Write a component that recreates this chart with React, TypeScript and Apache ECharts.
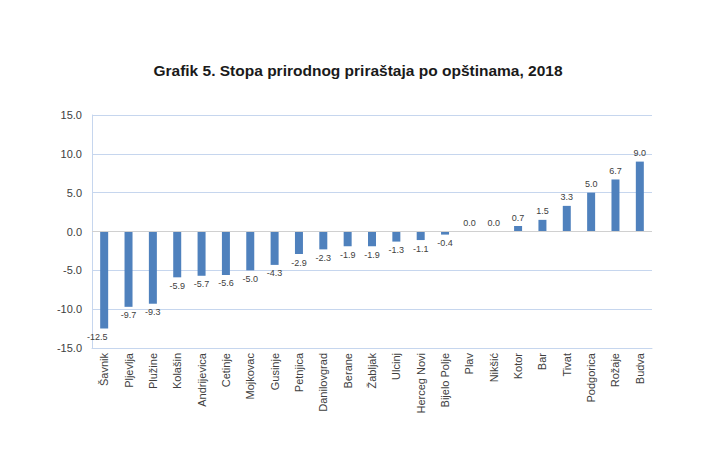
import React, { useEffect, useRef } from "react";
import * as echarts from "echarts";

const categories = ["Šavnik","Pljevlja","Plužine","Kolašin","Andrijevica","Cetinje","Mojkovac","Gusinje","Petnjica","Danilovgrad","Berane","Žabljak","Ulcinj","Herceg Novi","Bijelo Polje","Plav","Nikšić","Kotor","Bar","Tivat","Podgorica","Rožaje","Budva"];
const values = [-12.5,-9.7,-9.3,-5.9,-5.7,-5.6,-5.0,-4.3,-2.9,-2.3,-1.9,-1.9,-1.3,-1.1,-0.4,0.0,0.0,0.7,1.5,3.3,5.0,6.7,9.0];
const title = "Grafik 5. Stopa prirodnog priraštaja po opštinama, 2018";

export default function App() {
  const ref = useRef<HTMLDivElement>(null);
  useEffect(() => {
    const chart = echarts.init(ref.current!, null, { renderer: "svg" });
    const font = "Liberation Sans, Arial, sans-serif";
    chart.setOption({
      animation: false,
      title: {
        text: title,
        left: 345,
        textAlign: "center",
        top: 49,
        textStyle: { fontFamily: font, fontSize: 15.5, fontWeight: "bold", color: "#1a1a1a" },
      },
      grid: { left: 84, right: 60, top: 107, bottom: 106 },
      xAxis: {
        type: "category",
        data: categories,
        axisLine: { show: true, onZero: false, lineStyle: { color: "#c6d6ee" } },
        axisTick: { show: false },
        axisLabel: { rotate: 90, interval: 0, fontSize: 11, color: "#404040", fontFamily: font, margin: 5 },
      },
      yAxis: {
        type: "value",
        min: -15,
        max: 15,
        interval: 5,
        axisLine: { show: true, lineStyle: { color: "#c6d6ee" } },
        axisTick: { show: false },
        splitLine: { lineStyle: { color: "#c6d6ee" } },
        axisLabel: { formatter: (v: number) => v.toFixed(1), fontSize: 11, color: "#404040", fontFamily: font, margin: 10 },
      },
      series: [
        {
          type: "bar",
          barWidth: 8,
          data: values.map((v, i) => ({
            value: v,
            label: {
              position: v < 0 ? "bottom" : "top",
              offset: i === 0 ? [-7, 0] : [0, 0],
            },
          })),
          itemStyle: { color: "#4f81bd" },
          label: {
            show: true,
            formatter: (p: any) => Number(p.value).toFixed(1),
            fontSize: 9,
            color: "#404040",
            fontFamily: font,
            distance: 4,
          },
          markLine: {
            silent: true,
            symbol: "none",
            label: { show: false },
            lineStyle: { color: "#d0d0d0", type: "solid", width: 1 },
            data: [{ yAxis: 0 }],
          },
        },
      ],
    });
    return () => chart.dispose();
  }, []);
  return <div ref={ref} style={{ width: 704, height: 446 }} />;
}
